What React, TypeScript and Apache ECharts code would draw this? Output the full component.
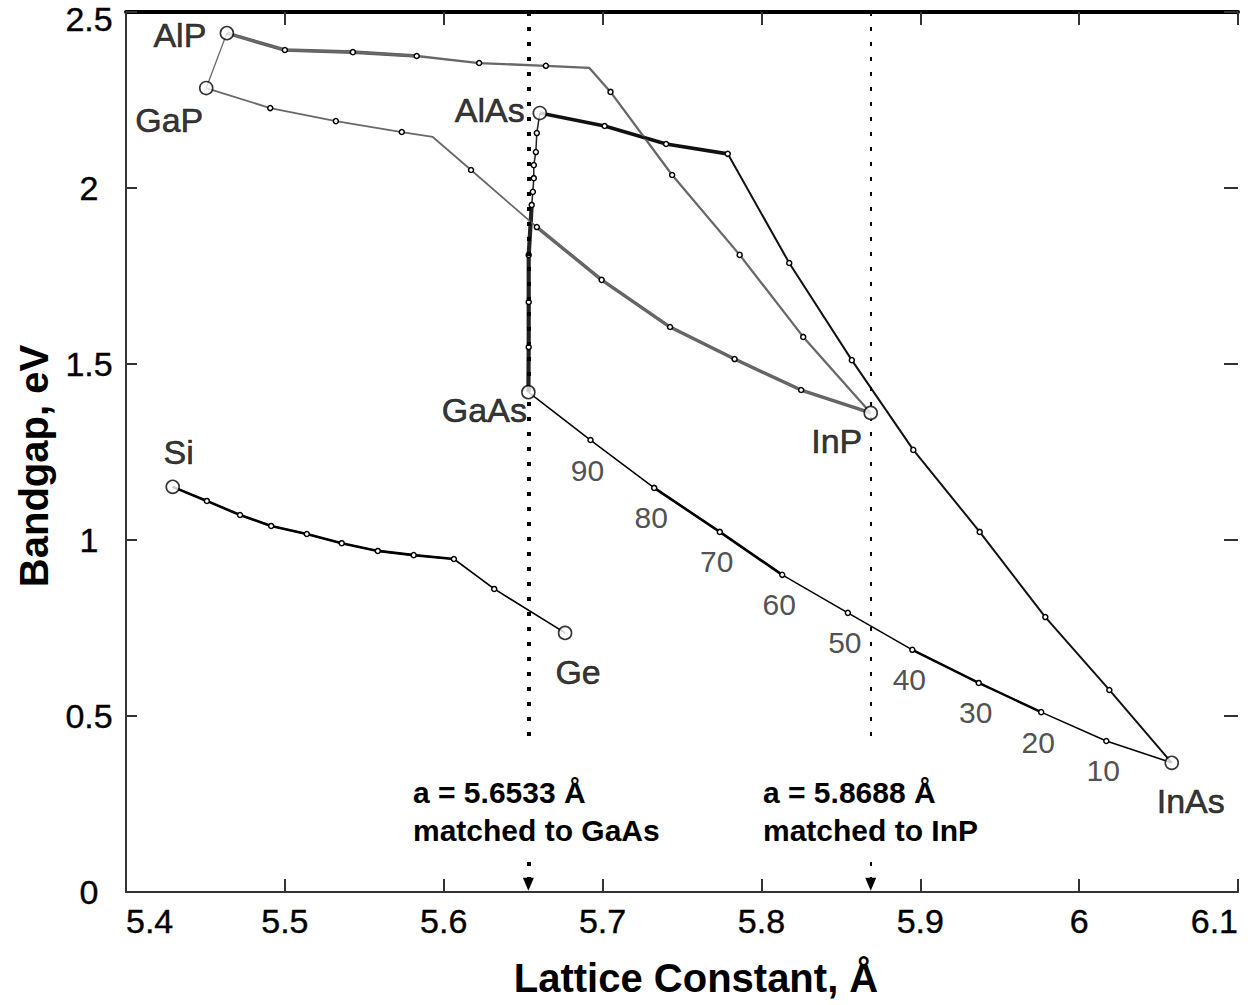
import React, { useEffect, useRef } from 'react';
import * as echarts from 'echarts';

// ---------- data ----------
const xTickLabels = ['5.4', '5.5', '5.6', '5.7', '5.8', '5.9', '6', '6.1'];
const yTickLabels = ['0', '0.5', '1', '1.5', '2', '2.5'];

const compoundNames = ['AlP', 'GaP', 'AlAs', 'GaAs', 'InP', 'InAs', 'Si', 'Ge'];
const compoundA = [5.4635, 5.4505, 5.6605, 5.6533, 5.8688, 6.0583, 5.4294, 5.6764];
const compoundEg = [2.44, 2.284, 2.213, 1.42, 1.361, 0.367, 1.151, 0.736];

// Al(x)In(1-x)P, from AlP towards InP (index 5 = crossover kink)
const alInPA = [5.5, 5.5428, 5.583, 5.6223, 5.6643, 5.6917, 5.705, 5.7438, 5.7863, 5.8263];
const alInPEg = [2.392, 2.386, 2.375, 2.355, 2.347, 2.341, 2.273, 2.037, 1.81, 1.577];
// Ga(x)In(1-x)P, from GaP towards InP (index 3 = crossover kink)
const gaInPA = [5.4908, 5.5321, 5.5736, 5.5931, 5.6172, 5.6586, 5.6994, 5.7425, 5.7831, 5.825];
const gaInPEg = [2.227, 2.19, 2.159, 2.145, 2.051, 1.889, 1.739, 1.605, 1.514, 1.426];
// Al(x)In(1-x)As, from AlAs towards InAs
const alInAsA = [5.7013, 5.74, 5.7788, 5.8175, 5.8569, 5.8956, 5.9374, 5.9787, 6.019];
const alInAsEg = [2.176, 2.125, 2.097, 1.787, 1.511, 1.256, 1.023, 0.781, 0.574];
// Ga(x)In(1-x)As, from GaAs towards InAs
const gaInAsA = [5.6924, 5.7325, 5.7738, 5.8131, 5.8544, 5.895, 5.9368, 5.9761, 6.0171];
const gaInAsEg = [1.284, 1.148, 1.023, 0.901, 0.793, 0.688, 0.594, 0.511, 0.429];
const gaInAsPct = ['90', '80', '70', '60', '50', '40', '30', '20', '10'];
// Al(x)Ga(1-x)As, from AlAs towards GaAs
const alGaAsA = [5.6586, 5.658, 5.6567, 5.6567, 5.6561, 5.6554, 5.6535, 5.6535, 5.6535];
const alGaAsEg = [2.156, 2.102, 2.065, 2.028, 1.989, 1.952, 1.81, 1.676, 1.548];
// Si(1-x)Ge(x), from Si towards Ge
const siGeA = [5.4509, 5.4718, 5.4914, 5.5138, 5.5358, 5.5585, 5.5811, 5.6064, 5.6318];
const siGeEg = [1.111, 1.071, 1.04, 1.017, 0.991, 0.969, 0.957, 0.946, 0.861];

const matchedA = [5.6533, 5.8688];
const matchedLine1 = ['a = 5.6533 Å', 'a = 5.8688 Å'];
const matchedLine2 = ['matched to GaAs', 'matched to InP'];

// ---------- styles ----------
const FONT = '"Liberation Sans", Arial, Helvetica, sans-serif';
const GRAY = '#686868';
const BLACK = '#000';

const labelOffsets: Record<string, number[]> = {
  AlP: [-47, 2], GaP: [-37, 32], AlAs: [-50, -3], GaAs: [-44, 18],
  InP: [-34, 28], InAs: [19, 38], Si: [6, -35], Ge: [13, 39],
};

type Alloy = {
  from: string; to: string; a: number[]; eg: number[]; kinks: number[];
  color: string; width: number; thick: { r: [number, number]; w: number; c?: string }[];
};

const alloys: Alloy[] = [
  { from: 'AlP', to: 'InP', a: alInPA, eg: alInPEg, kinks: [5], color: GRAY, width: 2.3,
    thick: [{ r: [0, 3], w: 3.6, c: '#5a5a5a' }] },
  { from: 'GaP', to: 'InP', a: gaInPA, eg: gaInPEg, kinks: [3], color: GRAY, width: 1.8,
    thick: [{ r: [6, 11], w: 3.4, c: '#5f5f5f' }] },
  { from: 'AlAs', to: 'InAs', a: alInAsA, eg: alInAsEg, kinks: [], color: '#111', width: 2,
    thick: [{ r: [0, 3], w: 3.6 }] },
  { from: 'AlAs', to: 'GaAs', a: alGaAsA, eg: alGaAsEg, kinks: [], color: '#222', width: 1.5,
    thick: [{ r: [6, 10], w: 4.2 }] },
  { from: 'GaAs', to: 'InAs', a: gaInAsA, eg: gaInAsEg, kinks: [], color: BLACK, width: 1.5,
    thick: [{ r: [2, 4], w: 2.6 }, { r: [6, 8], w: 2.4 }] },
  { from: 'Si', to: 'Ge', a: siGeA, eg: siGeEg, kinks: [], color: BLACK, width: 1.6,
    thick: [{ r: [0, 8], w: 2.6 }] },
];

const idx = (n: string) => compoundNames.indexOf(n);
const cpt = (n: string) => [compoundA[idx(n)], compoundEg[idx(n)]];

export default function App() {
  const ref = useRef<HTMLDivElement>(null);

  useEffect(() => {
    const chart = echarts.init(ref.current!, null, { renderer: 'svg' });

    const series: any[] = [];

    // AlP - GaP tie line
    series.push({
      type: 'line', silent: true, z: 2, symbol: 'none',
      data: [cpt('AlP'), cpt('GaP')],
      lineStyle: { color: GRAY, width: 1.3 },
    });

    alloys.forEach((al) => {
      const full = [cpt(al.from), ...al.a.map((x, i) => [x, al.eg[i]]), cpt(al.to)];
      al.thick.forEach((t) => {
        series.push({
          type: 'line', silent: true, z: 2, symbol: 'none',
          data: full.slice(t.r[0], t.r[1] + 1),
          lineStyle: { color: t.c || al.color, width: t.w },
        });
      });
      series.push({
        type: 'line', silent: true, z: 3,
        symbol: 'circle', symbolSize: 5, showSymbol: true, showAllSymbol: true,
        itemStyle: { color: '#fff', borderColor: '#000', borderWidth: 1.5 },
        lineStyle: { color: al.color, width: al.width },
        data: full.map((p, i) => {
          const noMark = i === 0 || i === full.length - 1 || al.kinks.includes(i - 1);
          return noMark ? { value: p, symbol: 'none' } : { value: p };
        }),
      });
    });

    // compound end points with names
    series.push({
      type: 'scatter', silent: true, z: 5,
      symbol: 'circle', symbolSize: 13,
      itemStyle: { color: '#fff', borderColor: '#000', borderWidth: 1.6 },
      data: compoundNames.map((n, i) => ({
        name: n, value: [compoundA[i], compoundEg[i]],
        label: { offset: labelOffsets[n] },
      })),
      label: {
        show: true, position: 'inside', formatter: (p: any) => p.name,
        fontFamily: FONT, fontSize: 34, color: '#000',
        textBorderColor: '#000', textBorderWidth: 0.6,
      },
    });

    // composition labels along GaInAs
    series.push({
      type: 'scatter', silent: true, z: 6, symbolSize: 1,
      itemStyle: { color: 'rgba(0,0,0,0)' },
      data: gaInAsA.map((x, i) => [x, gaInAsEg[i]]),
      label: {
        show: true, position: 'inside', offset: [-3, 30],
        formatter: (p: any) => gaInAsPct[p.dataIndex],
        fontFamily: FONT, fontSize: 30, color: '#222',
      },
    });

    // lattice-matched guide lines
    const guideStyles = [
      { color: '#000', width: 4, type: [4, 11] },
      { color: '#000', width: 2, type: [4, 11] },
    ];
    const mlData: any[] = [];
    matchedA.forEach((a, i) => {
      mlData.push([{ coord: [a, 2.5], lineStyle: guideStyles[i] }, { coord: [a, 0.418] }]);
      mlData.push([
        { coord: [a, 0.085], lineStyle: guideStyles[i], symbol: 'none' },
        { coord: [a, 0.022], symbol: 'triangle', symbolSize: [11, 13] },
      ]);
    });
    series.push({
      type: 'line', data: [], silent: true,
      markLine: {
        silent: true, animation: false, symbol: ['none', 'none'],
        label: { show: false }, emphasis: { disabled: true },
        itemStyle: { color: '#000' },
        data: mlData,
      },
    });

    const graphic: any[] = [];
    const annLeft = [413, 763];
    matchedA.forEach((_, i) => {
      graphic.push({
        type: 'text', x: annLeft[i], y: 792, silent: true,
        style: { text: matchedLine1[i], font: `bold 30px ${FONT}`, fill: '#000', textVerticalAlign: 'middle' },
      });
      graphic.push({
        type: 'text', x: annLeft[i], y: 830, silent: true,
        style: { text: matchedLine2[i], font: `bold 30px ${FONT}`, fill: '#000', textVerticalAlign: 'middle' },
      });
    });

    const xCommon = { type: 'value', min: 5.4, max: 6.1, interval: 0.1, splitLine: { show: false } };
    const yCommon = { type: 'value', min: 0, max: 2.5, interval: 0.5, splitLine: { show: false } };

    chart.setOption({
      animation: false,
      backgroundColor: '#fff',
      grid: { left: 126, right: 21, top: 12, bottom: 113, containLabel: false },
      xAxis: [
        {
          ...xCommon, position: 'bottom',
          axisLine: { onZero: false, lineStyle: { color: '#333', width: 2 } },
          axisTick: { inside: true, length: 13, lineStyle: { color: '#333', width: 2 } },
          axisLabel: {
            fontFamily: FONT, fontSize: 34, color: '#000', margin: 12,
            textBorderColor: '#000', textBorderWidth: 0.4,
            alignMinLabel: 'left', alignMaxLabel: 'right',
            formatter: (v: number) => xTickLabels[Math.round((v - 5.4) / 0.1)] ?? '',
          },
          name: 'Lattice Constant, Å', nameLocation: 'middle', nameGap: 86,
          nameTextStyle: {
            fontFamily: FONT, fontSize: 40, fontWeight: 'bold', color: '#000',
            align: 'center', verticalAlign: 'middle', padding: [0, 0, 0, 28],
          },
        },
        {
          ...xCommon, position: 'top',
          axisLine: { onZero: false, lineStyle: { color: '#000', width: 4 } },
          axisTick: { inside: true, length: 13, lineStyle: { color: '#333', width: 2 } },
          axisLabel: { show: false },
        },
      ],
      yAxis: [
        {
          ...yCommon, position: 'left',
          axisLine: { onZero: false, lineStyle: { color: '#333', width: 2 } },
          axisTick: { inside: true, length: 11, lineStyle: { color: '#333', width: 2 } },
          axisLabel: {
            fontFamily: FONT, fontSize: 34, color: '#000', margin: 37, align: 'center',
            textBorderColor: '#000', textBorderWidth: 0.4,
            formatter: (v: number) => {
              const i = Math.round(v / 0.5);
              const t = yTickLabels[i] ?? '';
              return i === yTickLabels.length - 1 ? `{top|${t}}` : t;
            },
            rich: {
              top: {
                fontFamily: FONT, fontSize: 34, color: '#000', padding: [14, 0, 0, 0],
                textBorderColor: '#000', textBorderWidth: 0.4,
              },
            },
          },
          name: 'Bandgap, eV', nameLocation: 'middle', nameGap: 91, nameRotate: 90,
          nameTextStyle: {
            fontFamily: FONT, fontSize: 40, fontWeight: 'bold', color: '#000',
            align: 'center', verticalAlign: 'middle', padding: [0, 28, 0, 0],
          },
        },
        {
          ...yCommon, position: 'right',
          axisLine: { show: false, onZero: false },
          axisTick: { show: true, inside: true, length: 14, lineStyle: { color: '#333', width: 2 } },
          axisLabel: { show: false },
        },
      ],
      series,
      graphic,
    });

    return () => chart.dispose();
  }, []);

  return (
    <div
      ref={ref}
      style={{ position: 'absolute', left: 0, top: 0, width: 1259, height: 1005, background: '#fff' }}
    />
  );
}
